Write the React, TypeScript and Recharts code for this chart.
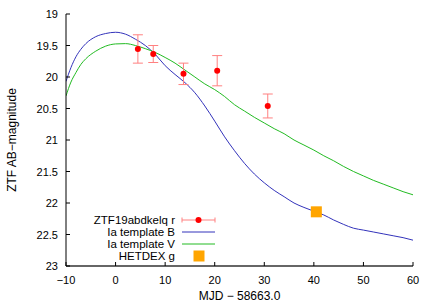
import React from 'react';
import { ComposedChart, Line, Scatter, XAxis, YAxis, ErrorBar } from 'recharts';

// template curves, sampled in days from peak
const CURVE_T = [-10, -9, -8, -7, -6, -4, -2, 0, 2, 4, 6, 8, 10, 12, 14, 16, 18, 20, 22, 24, 26, 28, 30, 32, 34, 36, 38, 40, 42, 44, 46, 48, 50, 52, 54, 56, 58, 60];
const TEMPLATE_B = [20.07, 19.85, 19.68, 19.56, 19.47, 19.36, 19.31, 19.29, 19.32, 19.4, 19.5, 19.64, 19.82, 19.96, 20.09, 20.25, 20.46, 20.7, 20.95, 21.17, 21.37, 21.54, 21.68, 21.8, 21.9, 22.0, 22.07, 22.13, 22.19, 22.27, 22.34, 22.4, 22.43, 22.46, 22.49, 22.52, 22.55, 22.59];
const TEMPLATE_V = [20.3, 20.08, 19.93, 19.8, 19.71, 19.59, 19.51, 19.475, 19.47, 19.5, 19.55, 19.61, 19.69, 19.78, 19.89, 20.0, 20.11, 20.2, 20.31, 20.44, 20.54, 20.64, 20.73, 20.82, 20.9, 21.0, 21.08, 21.16, 21.25, 21.33, 21.42, 21.5, 21.57, 21.64, 21.7, 21.76, 21.82, 21.87];

// ZTF19abdkelq r-band photometry
const ZTF_T = [4.5, 7.6, 13.7, 20.5, 30.7];
const ZTF_MAG = [19.555, 19.635, 19.95, 19.9, 20.46];
const ZTF_ERR = [0.225, 0.135, 0.17, 0.24, 0.19];

const HETDEX_T = [40.5];
const HETDEX_MAG = [22.14];

const X_TICKS = [-10, 0, 10, 20, 30, 40, 50, 60];
const Y_TICKS = [19, 19.5, 20, 20.5, 21, 21.5, 22, 22.5, 23];

const BLUE = '#3333bb';
const GREEN = '#22bb22';
const RED = '#ff0000';
const ERR_RED = '#ff8080';
const ORANGE = '#ffa500';
const FONT = '"Liberation Sans", Arial, sans-serif';

const curveB = CURVE_T.map((t, i) => ({ t, mag: TEMPLATE_B[i] }));
const curveV = CURVE_T.map((t, i) => ({ t, mag: TEMPLATE_V[i] }));
const ztf = ZTF_T.map((t, i) => ({ t, mag: ZTF_MAG[i], err: ZTF_ERR[i] }));
const hetdex = HETDEX_T.map((t, i) => ({ t, mag: HETDEX_MAG[i] }));

const fmt = (v: number) => (v < 0 ? `−${-v}` : `${v}`);

const BottomTick = ({ x, y, payload }: any) => (
  <g>
    <line x1={x} y1={y} x2={x} y2={y - 4} stroke="#000" />
    <text x={x} y={y + 18} textAnchor="middle" fontSize={11} fill="#000" fontFamily={FONT}>
      {fmt(payload.value)}
    </text>
  </g>
);

const TopTick = ({ x, y }: any) => <line x1={x} y1={y} x2={x} y2={y + 4} stroke="#000" />;

const LeftTick = ({ x, y, payload }: any) => (
  <g>
    <line x1={x} y1={y} x2={x + 4} y2={y} stroke="#000" />
    <text x={x - 8} y={y + 4} textAnchor="end" fontSize={11} fill="#000" fontFamily={FONT}>
      {payload.value}
    </text>
  </g>
);

const RightTick = ({ x, y }: any) => <line x1={x} y1={y} x2={x - 4} y2={y} stroke="#555" />;

const Dot = ({ cx, cy }: any) => <circle cx={cx} cy={cy} r={3} fill={RED} />;
const Square = ({ cx, cy }: any) => <rect x={cx - 5.5} y={cy - 5.5} width={11} height={11} fill={ORANGE} />;

const legendRows = ['ZTF19abdkelq r', 'Ia template B', 'Ia template V', 'HETDEX g'];

export default function App() {
  return (
    <div style={{ position: 'absolute', left: 0, top: 0, width: 436, height: 305, fontFamily: FONT, background: '#fff' }}>
      <ComposedChart width={436} height={305} margin={{ top: 14, right: 23, bottom: 9, left: 16 }}>
        <XAxis
          type="number"
          dataKey="t"
          domain={[-10, 60]}
          ticks={X_TICKS}
          allowDataOverflow
          height={30}
          tickSize={0}
          tickMargin={0}
          tickLine={false}
          tick={<BottomTick />}
          axisLine={{ stroke: '#333', strokeWidth: 1.5 }}
          label={{
            content: ({ viewBox }: any) => (
              <text
                x={viewBox.x + viewBox.width / 2}
                y={viewBox.y + 34}
                textAnchor="middle"
                fontSize={12}
                fontFamily={FONT}
              >
                MJD − 58663.0
              </text>
            ),
          }}
        />
        <XAxis
          xAxisId="top"
          orientation="top"
          type="number"
          dataKey="t"
          domain={[-10, 60]}
          ticks={X_TICKS}
          allowDataOverflow
          height={0}
          tickSize={0}
          tickMargin={0}
          tickLine={false}
          tick={<TopTick />}
          axisLine={{ stroke: '#000' }}
        />
        <YAxis
          type="number"
          domain={[19, 23]}
          ticks={Y_TICKS}
          reversed
          allowDataOverflow
          width={50}
          tickSize={0}
          tickMargin={0}
          tickLine={false}
          tick={<LeftTick />}
          axisLine={{ stroke: '#000' }}
          label={{
            content: ({ viewBox }: any) => {
              const cx = viewBox.x - 4;
              const cy = viewBox.y + viewBox.height / 2;
              return (
                <text
                  x={cx}
                  y={cy}
                  transform={`rotate(-90 ${cx} ${cy})`}
                  textAnchor="middle"
                  dominantBaseline="central"
                  fontSize={12}
                  fontFamily={FONT}
                >
                  ZTF AB−magnitude
                </text>
              );
            },
          }}
        />
        <YAxis
          yAxisId="right"
          orientation="right"
          type="number"
          domain={[19, 23]}
          ticks={Y_TICKS}
          reversed
          allowDataOverflow
          width={0}
          tickSize={0}
          tickMargin={0}
          tickLine={false}
          tick={<RightTick />}
          axisLine={{ stroke: '#888', strokeWidth: 2 }}
        />
        <Line data={curveB} dataKey="mag" type="monotone" stroke={BLUE} strokeWidth={1} dot={false} isAnimationActive={false} />
        <Line data={curveV} dataKey="mag" type="monotone" stroke={GREEN} strokeWidth={1} dot={false} isAnimationActive={false} />
        <Scatter data={ztf} dataKey="mag" shape={<Dot />} isAnimationActive={false}>
          <ErrorBar dataKey="err" direction="y" width={5} stroke={ERR_RED} strokeWidth={1} />
        </Scatter>
        <Scatter data={hetdex} dataKey="mag" shape={<Square />} isAnimationActive={false} />
      </ComposedChart>

      {legendRows.map((label, i) => (
        <div
          key={label}
          style={{
            position: 'absolute',
            left: 0,
            top: 214 + i * 12,
            width: 175,
            textAlign: 'right',
            fontSize: 11.5,
            lineHeight: '12px',
            whiteSpace: 'nowrap',
          }}
        >
          {label}
        </div>
      ))}
      <svg style={{ position: 'absolute', left: 180, top: 214 }} width={40} height={48}>
        <line x1={2} y1={6} x2={35} y2={6} stroke={ERR_RED} />
        <line x1={2} y1={3.5} x2={2} y2={8.5} stroke={ERR_RED} />
        <line x1={35} y1={3.5} x2={35} y2={8.5} stroke={ERR_RED} />
        <circle cx={18.5} cy={6} r={3} fill={RED} />
        <line x1={2} y1={18} x2={35} y2={18} stroke={BLUE} />
        <line x1={2} y1={30} x2={35} y2={30} stroke={GREEN} />
        <rect x={13.5} y={36.5} width={11} height={11} fill={ORANGE} />
      </svg>
    </div>
  );
}
